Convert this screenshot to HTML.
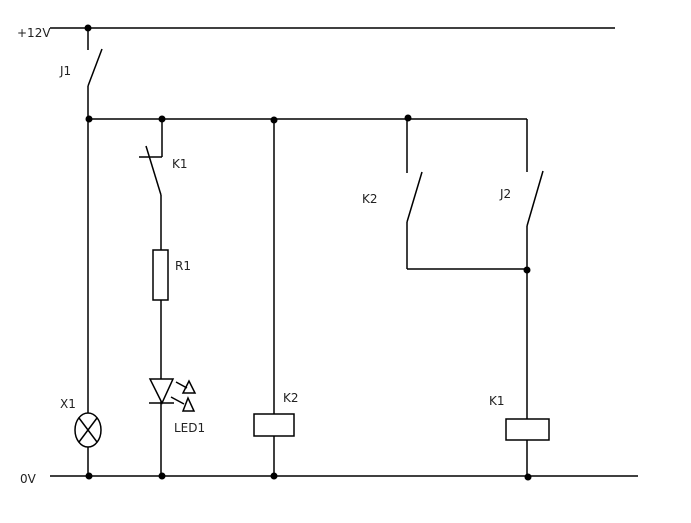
<!DOCTYPE html>
<html><head><style>
html,body{margin:0;padding:0;background:#fff;}
svg text{font-family:"DejaVu Sans","Liberation Sans",sans-serif;font-size:12px;fill:#222;}
</style></head><body>
<svg width="691" height="518" viewBox="0 0 691 518" xmlns="http://www.w3.org/2000/svg">
<g stroke="#000" stroke-width="1.5" fill="none">
<line x1="50" y1="28" x2="615" y2="28"/>
<line x1="88" y1="28" x2="88" y2="50"/>
<line x1="88" y1="86" x2="102" y2="49"/>
<line x1="88" y1="86" x2="88" y2="476"/>
<line x1="88" y1="119" x2="527" y2="119"/>
<line x1="527" y1="119" x2="527" y2="172"/>
<line x1="162" y1="119" x2="162" y2="157"/>
<line x1="139" y1="157" x2="162" y2="157"/>
<line x1="146" y1="146" x2="161" y2="195"/>
<line x1="161" y1="195" x2="161" y2="476"/>
<rect x="153" y="250" width="15" height="50" fill="#fff"/>
<polygon points="150,379 173,379 162,403" fill="#fff"/>
<line x1="149" y1="403" x2="174" y2="403"/>
<line x1="176" y1="382" x2="187" y2="388"/>
<polygon points="189,381 183,393 195,393"/>
<line x1="171" y1="397" x2="184" y2="404"/>
<polygon points="188,398 183,411 194,411"/>
<ellipse cx="88" cy="430" rx="13" ry="17" fill="#fff"/>
<line x1="79" y1="418" x2="97" y2="442"/>
<line x1="97" y1="418" x2="79" y2="442"/>
<line x1="274" y1="119" x2="274" y2="476"/>
<rect x="254" y="414" width="40" height="22" fill="#fff"/>
<line x1="407" y1="119" x2="407" y2="173"/>
<line x1="407" y1="222" x2="422" y2="172"/>
<line x1="407" y1="222" x2="407" y2="269"/>
<line x1="407" y1="269" x2="527" y2="269"/>
<line x1="527" y1="226" x2="543" y2="171"/>
<line x1="527" y1="226" x2="527" y2="476"/>
<rect x="506" y="419" width="43" height="21" fill="#fff"/>
<line x1="50" y1="476" x2="638" y2="476"/>
</g>
<g fill="#000">
<circle cx="88" cy="28" r="3.5"/>
<circle cx="89" cy="119" r="3.5"/>
<circle cx="162" cy="119" r="3.5"/>
<circle cx="274" cy="120" r="3.5"/>
<circle cx="408" cy="118" r="3.5"/>
<circle cx="527" cy="270" r="3.5"/>
<circle cx="89" cy="476" r="3.5"/>
<circle cx="162" cy="476" r="3.5"/>
<circle cx="274" cy="476" r="3.5"/>
<circle cx="528" cy="477" r="3.5"/>
</g>
<text x="17" y="37">+12V</text>
<text x="60" y="75">J1</text>
<text x="172" y="168">K1</text>
<text x="175" y="270">R1</text>
<text x="60" y="408">X1</text>
<text x="174" y="432">LED1</text>
<text x="283" y="402">K2</text>
<text x="362" y="203">K2</text>
<text x="500" y="198">J2</text>
<text x="489" y="405">K1</text>
<text x="20" y="483">0V</text>
</svg>
</body></html>
